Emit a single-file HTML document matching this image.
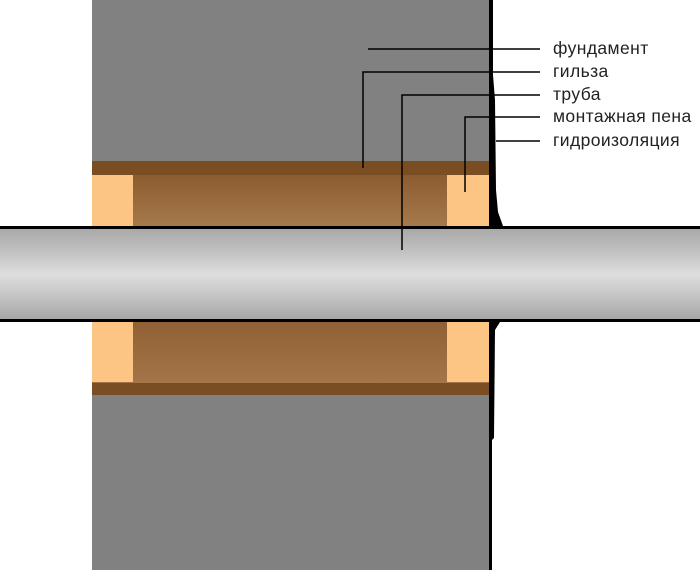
<!DOCTYPE html>
<html><head><meta charset="utf-8"><style>
body{margin:0;width:700px;height:570px;overflow:hidden;background:#fff;position:relative;font-family:"Liberation Sans",sans-serif}
div{position:absolute}
.t{font-size:17.5px;letter-spacing:0.4px;color:#222;left:553px;line-height:18px;white-space:nowrap}
</style></head><body>
<div style="left:92px;top:0;width:397px;height:570px;background:#818181"></div>
<div style="left:92px;top:161px;width:397px;height:14px;background:#7a4e22"></div>
<div style="left:92px;top:175px;width:397px;height:52px;background:linear-gradient(#8a5c30,#a77a4c)"></div>
<div style="left:92px;top:321px;width:397px;height:62px;background:linear-gradient(#8f6034,#a37548)"></div>
<div style="left:92px;top:383px;width:397px;height:12px;background:#7a4e22"></div>
<div style="left:92px;top:175px;width:41px;height:52px;background:#fcc583"></div>
<div style="left:447px;top:175px;width:42px;height:52px;background:#fcc583"></div>
<div style="left:92px;top:321px;width:41px;height:61px;background:#fcc583"></div>
<div style="left:447px;top:321px;width:42px;height:61px;background:#fcc583"></div>
<svg width="700" height="570" style="position:absolute;left:0;top:0">
<path d="M489 0 L493 0 L493 75 L495 100 L496 190 L498 212 L503 226 L489 226 Z" fill="#000"/>
<path d="M489 322 L500 322 L495 330 L494 438 L492 440 L492 570 L489 570 Z" fill="#000"/>
<g stroke="#000" stroke-width="1.5" fill="none">
<path d="M368 49 H540"/>
<path d="M363 168 V72 H540"/>
<path d="M402 250 V95 H540"/>
<path d="M465 192 V117 H540"/>
<path d="M496 141 H540"/>
</g>
</svg>
<div style="left:0;top:226px;width:700px;height:96px;box-sizing:border-box;border-top:3px solid #000;border-bottom:3px solid #000;background:linear-gradient(#a9a9a9,#c6c6c6 30%,#dedede 50%,#c4c4c4 75%,#a7a7a7)"></div>
<svg width="700" height="570" style="position:absolute;left:0;top:0"><path d="M402 229 V250" stroke="#000" stroke-width="1.5"/></svg>
<div class="t" style="top:39px">фундамент</div>
<div class="t" style="top:62px">гильза</div>
<div class="t" style="top:85px">труба</div>
<div class="t" style="top:107px">монтажная пена</div>
<div class="t" style="top:131px">гидроизоляция</div>
</body></html>
